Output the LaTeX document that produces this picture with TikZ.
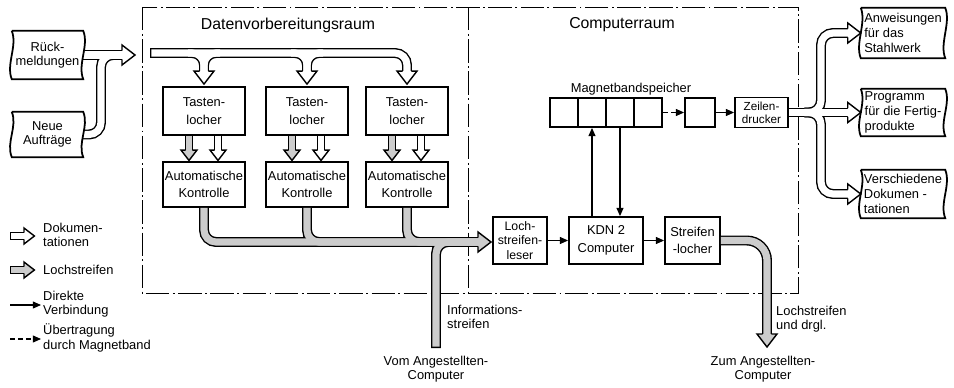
\documentclass[tikz,border=0pt]{standalone}
\usepackage{fontspec}
\setmainfont{Liberation Sans}
\usetikzlibrary{arrows.meta}

\colorlet{punch}{black!20}
\tikzset{
  box/.style={draw, line width=1.6pt, align=center, inner sep=0pt,
    font=\fontsize{11}{15}\selectfont},
  docu/.style={inner sep=0pt, align=left, font=\fontsize{11}{12.5}\selectfont},
  lbl/.style={inner sep=0pt, align=left, font=\fontsize{11}{12.5}\selectfont},
  head/.style={inner sep=0pt, font=\fontsize{13.5}{16}\selectfont},
  room/.style={line width=0.8pt, dash pattern=on 20pt off 3pt on 1.5pt off 3pt},
  direct/.style={line width=0.9pt, -{Triangle[length=7pt,width=6pt]}},
  viatape/.style={direct, dash pattern=on 4pt off 3pt},
  rim/.style={line width=1.2pt, line join=miter},
  tubeout/.style={line width=8.5pt, line cap=butt, rounded corners=0.36cm},
  tubein/.style={line width=6.1pt, line cap=butt, rounded corners=0.36cm},
  thinout/.style={line width=6.8pt, line cap=butt},
  thinin/.style={line width=4.4pt, line cap=butt},
}

\newcommand{\tubehead}[4][1]{%
  \begin{scope}[shift={#2}, rotate=#3, scale=#1]
    \fill[#4] (0,-4.3) -- (0,-10) -- (13,0) -- (0,10) -- (0,4.3) -- cycle;
    \draw[rim] (0,-4.3) -- (0,-10) -- (13,0) -- (0,10) -- (0,4.3);
  \end{scope}}
\newcommand{\docframe}[1]{%
  \draw[line width=1.5pt] (#1.north west) -- (#1.north east)
    .. controls +(6,15) and +(-6,-15) .. (#1.south east) -- (#1.south west)
    .. controls +(-6,-15) and +(6,15) .. (#1.north west);}

\begin{document}
\begin{tikzpicture}[x=0.03cm, y=-0.03cm]
  \useasboundingbox (0,0) rectangle (954,387);

  % rooms
  \draw[room] (142,7) rectangle (798,293);
  \draw[room] (468,7) -- (468,293);
  \node[head] (datlbl) at (288,25) {Datenvorbereitungsraum};
  \node[head] (complbl) at (622,25) {Computerraum};

  % documents
  \node[docu, align=center, minimum width=71*0.03cm, minimum height=48*0.03cm] (rueck) at (47.5,55) {Rück-\\meldungen};
  \node[docu, align=center, minimum width=71*0.03cm, minimum height=45*0.03cm] (neue) at (47.5,134.5) {Neue\\Aufträge};
  \node[docu, minimum width=84*0.03cm, minimum height=50*0.03cm] (anw) at (903,33) {Anweisungen\\ für das\\ Stahlwerk};
  \node[docu, minimum width=84*0.03cm, minimum height=47*0.03cm] (prog) at (903,112.5) {Programm\\für die Fertig-\\produkte};
  \node[docu, minimum width=84*0.03cm, minimum height=48*0.03cm] (versch) at (903,194) {Verschiedene\\Dokumen -\\tationen};

  % data preparation
  \foreach \x [count=\i] in {204,307,407} {
    \node[box, minimum width=82*0.03cm, minimum height=48*0.03cm] (tast\i) at (\x,111) {Tasten-\\locher};
    \node[box, font=\fontsize{11}{14.5}\selectfont, minimum width=82*0.03cm, minimum height=45*0.03cm] (kont\i) at (\x,184.5) {Automatische\\Kontrolle};
  }

  % computer room
  \node[box, font=\fontsize{10.5}{12.5}\selectfont, minimum width=54*0.03cm, minimum height=47*0.03cm] (leser) at (520,240.5) {Loch-\\streifen-\\leser};
  \node[box, minimum width=74*0.03cm, minimum height=47*0.03cm] (kdn) at (606,240.5) {KDN 2\\Computer};
  \node[box, minimum width=55*0.03cm, minimum height=47*0.03cm] (streif) at (692.5,240.5) {Streifen\\-locher};
  \foreach \i in {1,...,4}
    \node[box, minimum width=28*0.03cm, minimum height=29*0.03cm] (cell\i) at (536+28*\i,112.5) {};
  \node[box, minimum width=30*0.03cm, minimum height=29*0.03cm] (spare) at (700,112.5) {};
  \node[box, font=\fontsize{10}{11}\selectfont, minimum width=53*0.03cm, minimum height=30*0.03cm] (zeilen) at (761.5,112.5) {Zeilen-\\drucker};
  \node[lbl] (maglbl) at (631,89) {Magnetbandspeicher};

  % outside labels
  \node[lbl, anchor=west] (infolbl) at (447,317) {Informations-\\streifen};
  \node[lbl, align=center] (vomlbl) at (436,369) {Vom Angestellten-\\Computer};
  \node[lbl, anchor=west] (restlbl) at (776,319) {Lochstreifen\\und drgl.};
  \node[lbl, align=center] (zumlbl) at (763,369) {Zum Angestellten-\\Computer};

  % input tubes
  \coordinate (inbase) at (122,55);
  \coordinate (nbend) at (101,55);
  \draw[tubeout] (rueck.east) -- (inbase);
  \draw[tubeout] (neue.east) -| (nbend) -- (inbase);
  \draw[tubein, white] (rueck.east) -- (inbase);
  \draw[tubein, white] (neue.east) -| (nbend) -- (inbase);
  \tubehead{(inbase)}{0}{white}

  % distribution to the punches
  \coordinate (dstart) at (150,53);
  \foreach \i in {1,2,3}
    \coordinate (dbase\i) at ([yshift=0.45cm]tast\i.north);
  \draw[tubeout] (dstart) -- (dstart -| dbase3) -- (dbase3);
  \foreach \i in {1,2} {
    \draw[tubeout] ([xshift=-0.48cm]dstart -| dbase\i) -- (dstart -| dbase\i) -- (dbase\i);
    \draw[tubeout] ([xshift=0.48cm]dstart -| dbase\i) -- (dstart -| dbase\i) -- (dbase\i);
  }
  \draw[tubein, white, shorten <=1.2pt] (dstart) -- (dstart -| dbase3) -- (dbase3);
  \foreach \i in {1,2} {
    \draw[tubein, white] ([xshift=-0.48cm]dstart -| dbase\i) -- (dstart -| dbase\i) -- (dbase\i);
    \draw[tubein, white] ([xshift=0.48cm]dstart -| dbase\i) -- (dstart -| dbase\i) -- (dbase\i);
  }
  \foreach \i in {1,2,3} {
    \tubehead{(dbase\i)}{-90}{white}
  }

  % punch to check
  \foreach \i in {1,2,3} {
    \coordinate (pbase\i) at ([xshift=-0.45cm, yshift=0.33cm]kont\i.north);
    \coordinate (hbase\i) at ([xshift=0.42cm, yshift=0.33cm]kont\i.north);
    \draw[thinout] (tast\i.south -| pbase\i) -- (pbase\i);
    \draw[thinin, punch] (tast\i.south -| pbase\i) -- (pbase\i);
    \draw[thinout] (tast\i.south -| hbase\i) -- (hbase\i);
    \draw[thinin, white] (tast\i.south -| hbase\i) -- (hbase\i);
    \tubehead[0.8]{(pbase\i)}{-90}{punch}
    \tubehead[0.8]{(hbase\i)}{-90}{white}
  }

  % collected paper tape
  \coordinate (colbase) at (478,242);
  \coordinate (infoend) at (436,348);
  \foreach \i in {1,2,3}
    \draw[tubeout] (kont\i.south) |- (colbase);
  \draw[tubeout] (infoend) |- (colbase);
  \foreach \i in {1,2,3}
    \draw[tubein, punch] (kont\i.south) |- (colbase);
  \draw[tubein, punch, shorten <=1.2pt] (infoend) |- (colbase);
  \tubehead{(colbase)}{0}{punch}

  % tape out of the computer room
  \coordinate (outbase) at (767,334);
  \draw[tubeout, rounded corners=0.6cm] (streif.east) -| (outbase);
  \draw[tubein, punch, rounded corners=0.6cm] (streif.east) -| (outbase);
  \tubehead{(outbase)}{-90}{punch}

  % printer output
  \coordinate (zfork) at (821,112.5);
  \coordinate (abase) at ([xshift=-0.39cm]anw.west);
  \coordinate (pbase) at ([xshift=-0.39cm]prog.west);
  \coordinate (vbase) at ([xshift=-0.39cm]versch.west);
  \draw[tubeout] (zeilen.east) -- (pbase);
  \draw[tubeout] ([xshift=-0.5cm]zfork) -- (zfork) |- (abase);
  \draw[tubeout] ([xshift=-0.5cm]zfork) -- (zfork) |- (vbase);
  \draw[tubein, white] (zeilen.east) -- (pbase);
  \draw[tubein, white] ([xshift=-0.5cm]zfork) -- (zfork) |- (abase);
  \draw[tubein, white] ([xshift=-0.5cm]zfork) -- (zfork) |- (vbase);
  \tubehead{(abase)}{0}{white}
  \tubehead{(pbase)}{0}{white}
  \tubehead{(vbase)}{0}{white}

  \docframe{rueck}
  \docframe{neue}
  \docframe{anw}
  \docframe{prog}
  \docframe{versch}

  % direct links
  \draw[direct] (leser) -- (kdn);
  \draw[direct] (kdn) -- (streif);
  \draw[direct] (kdn.north -| cell2) -- (cell2.south);
  \draw[direct] (cell3.south) -- (kdn.north -| cell3);
  \draw[viatape] (cell4) -- (spare);
  \draw[direct] (spare) -- (zeilen);

  % legend
  \coordinate (lg1) at (10,236);  \coordinate (lg1b) at (24,236);
  \coordinate (lg2) at (10,270);  \coordinate (lg2b) at (24,270);
  \coordinate (lg3) at (10,305);  \coordinate (lg3b) at (41,305);
  \coordinate (lg4) at (10,339);  \coordinate (lg4b) at (41,339);
  \draw[thinout] (lg1) -- (lg1b);
  \draw[thinin, white, shorten <=1.2pt] (lg1) -- (lg1b);
  \tubehead[0.8]{(lg1b)}{0}{white}
  \draw[thinout] (lg2) -- (lg2b);
  \draw[thinin, punch, shorten <=1.2pt] (lg2) -- (lg2b);
  \tubehead[0.8]{(lg2b)}{0}{punch}
  \draw[direct] (lg3) -- (lg3b);
  \draw[viatape] (lg4) -- (lg4b);
  \node[lbl, anchor=west] (lgt1) at (43,235) {Dokumen-\\tationen};
  \node[lbl, anchor=west] (lgt2) at (43,270) {Lochstreifen};
  \node[lbl, anchor=west] (lgt3) at (43,304) {Direkte\\Verbindung};
  \node[lbl, anchor=west] (lgt4) at (43,338) {Übertragung\\durch Magnetband};
\end{tikzpicture}
\end{document}
